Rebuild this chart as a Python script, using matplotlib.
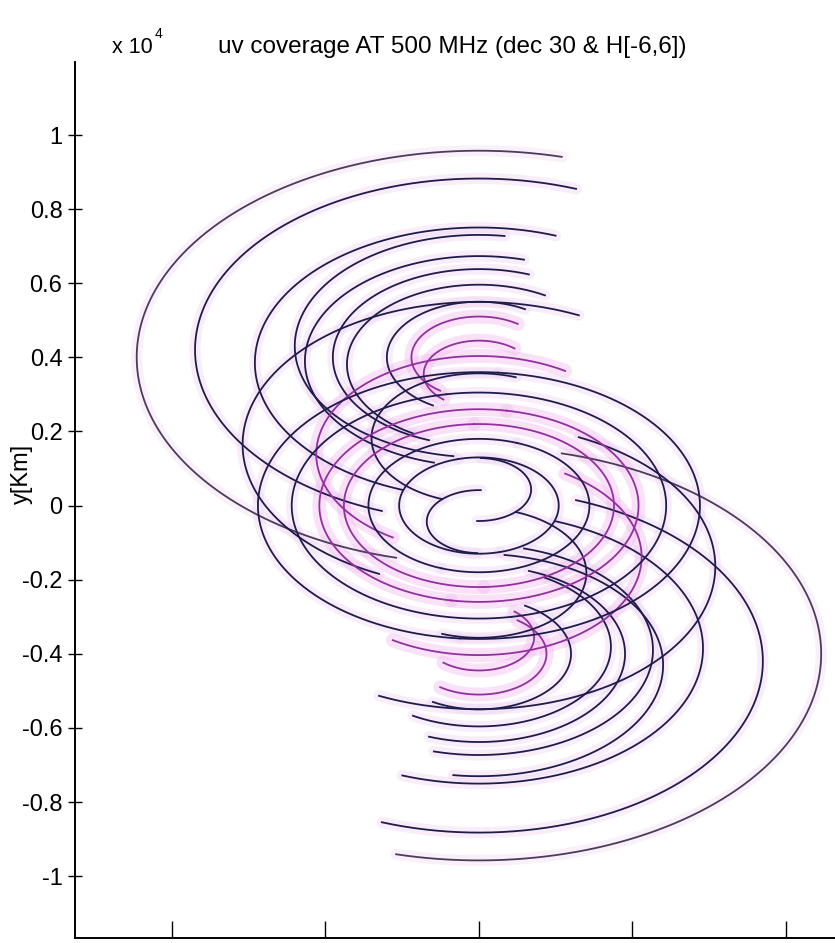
import numpy as np
import matplotlib
matplotlib.use("Agg")
import matplotlib.pyplot as plt

# Observation settings
dec_deg = 30.0
hour_angle_h = (-6.0, 6.0)

# Baselines: equatorial-plane length (km), azimuth of that projection (deg),
# polar component Z (km) and the colour used for the track pair
baseline_len_km = [11150, 9250, 7300, 6000, 5670, 4760, 4300, 3000, 2200, 1800,
                   7700, 5300, 3500,
                   7200, 6100, 5200, 4400, 3600, 2600, 1700]
baseline_az_deg = [256, 250, 250, 262, 255, 250, 240, 240, 235, 230,
                   245, 238, 250,
                   85, 100, 80, 92, 70, 105, 88]
baseline_z_km = [4620, 4850, 4450, 4970, 4500, 4620, 4400, 4620, 4620, 4100,
                 1900, 1600, 2100,
                 0, 0, 0, 0, 0, 0, 500]
baseline_colour = ["grey", "navy", "navy", "navy", "navy", "navy", "navy", "navy",
                   "magenta", "magenta",
                   "navy", "magenta", "navy",
                   "navy", "navy", "magenta", "magenta", "navy", "navy", "navy"]

# Axis ticks (units of 1e4 km)
ytick_vals = [1, 0.8, 0.6, 0.4, 0.2, 0, -0.2, -0.4, -0.6, -0.8, -1]
ytick_labels = ["1", "0.8", "0.6", "0.4", "0.2", "0", "-0.2", "-0.4", "-0.6", "-0.8", "-1"]
xtick_vals = [-1, -0.5, 0, 0.5, 1]

line_colours = {"navy": "#1e1c4c", "magenta": "#93309f", "grey": "#4a3c5c"}
halo_colours = {"navy": "#efd2f0", "magenta": "#f0b8ee", "grey": "#f2daf2"}

plt.rcParams["font.family"] = ["Liberation Sans", "DejaVu Sans"]

W, H = 835, 943
fig = plt.figure(figsize=(W / 100, H / 100), dpi=100)
ax = fig.add_axes([75 / W, 5 / H, (W - 75) / W, (938 - 62) / H])

dec = np.radians(dec_deg)
ha = np.radians(np.linspace(hour_angle_h[0], hour_angle_h[1], 400) * 15.0)

tracks = []
for L, az, Z, c in zip(baseline_len_km, baseline_az_deg, baseline_z_km, baseline_colour):
    X = L * np.cos(np.radians(az))
    Y = L * np.sin(np.radians(az))
    u = X * np.sin(ha) + Y * np.cos(ha)
    v = -X * np.sin(dec) * np.cos(ha) + Y * np.sin(dec) * np.sin(ha) + Z * np.cos(dec)
    tracks.append((u / 1e4, v / 1e4, c))
    tracks.append((-u / 1e4, -v / 1e4, c))

# soft colour bleed under each track, then the tracks themselves
for u, v, c in tracks:
    ax.plot(u, v, color=halo_colours[c], lw=10 if c == "magenta" else 8,
            alpha=0.4, solid_capstyle="round", zorder=1)
for u, v, c in tracks:
    ax.plot(u, v, color=line_colours[c], lw=1.3, zorder=2)

ax.set_xlim(-1.316, 1.160)
ax.set_ylim(-1.167, 1.197)
ax.set_yticks(ytick_vals)
ax.set_yticklabels(ytick_labels, fontsize=17)
ax.set_xticks(xtick_vals)
ax.set_xticklabels([])
ax.tick_params(axis="y", direction="inout", length=10, width=1, pad=4)
ax.tick_params(axis="x", direction="in", length=12, width=1)
for side in ("top", "right"):
    ax.spines[side].set_visible(False)
for side in ("left", "bottom"):
    ax.spines[side].set_linewidth(1.4)

fig.text(22 / W, 1 - 474 / H, "y[Km]", rotation=90, fontsize=17, ha="center", va="center")
fig.text(112 / W, 1 - 53 / H, "x 10", fontsize=15.5, ha="left", va="baseline")
fig.text(155 / W, 1 - 38 / H, "4", fontsize=10, ha="left", va="baseline")
fig.text(452 / W, 1 - 53 / H, "uv coverage AT 500 MHz (dec 30 & H[-6,6])",
         fontsize=17.5, ha="center", va="baseline")

fig.savefig("out.png", dpi=100)
